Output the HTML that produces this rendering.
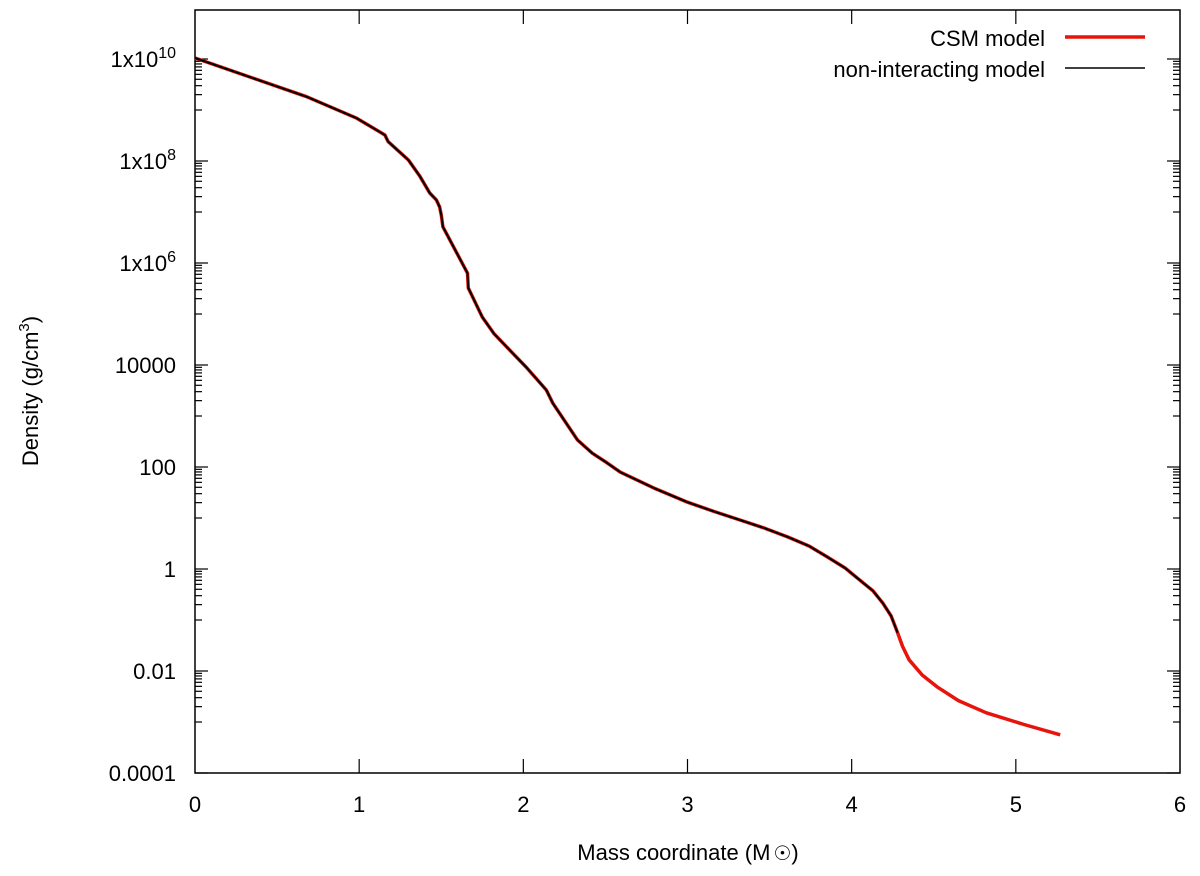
<!DOCTYPE html>
<html><head><meta charset="utf-8">
<style>
html,body{margin:0;padding:0;background:#fff;}
svg{display:block;font-family:"Liberation Sans",sans-serif;}
</style></head>
<body>
<svg id="chart" width="1200" height="876" viewBox="0 0 1200 876">
<g id="axes"></g>
<g id="series"></g>
<g id="legend">
<text x="1045" y="46" text-anchor="end" font-size="22">CSM model</text>
<line x1="1065" y1="37" x2="1145" y2="37" stroke="#e8140c" stroke-width="3.5"/>
<text x="1045" y="77" text-anchor="end" font-size="22">non-interacting model</text>
<line x1="1065" y1="68" x2="1145" y2="68" stroke="#000" stroke-width="1.5"/>
</g>
<text x="688" y="860" text-anchor="middle" font-size="22">Mass coordinate (M<tspan font-size="20" dx="3">☉</tspan>)</text>
<text transform="translate(38,391) rotate(-90)" text-anchor="middle" font-size="22">Density (g/cm<tspan font-size="15" dy="-9">3</tspan><tspan dy="9">)</tspan></text>
</svg>
<script>
const csmMass = [0,0.376,0.68,0.985,1.157,1.176,1.30,1.37,1.43,1.47,1.49,1.50,1.51,1.66,1.665,1.75,1.82,1.90,2.02,2.14,2.18,2.33,2.42,2.51,2.59,2.80,3.00,3.16,3.32,3.47,3.61,3.74,3.85,3.96,4.05,4.13,4.19,4.24,4.28,4.31,4.35,4.43,4.52,4.65,4.82,5.05,5.27];
const csmLogDensity = [10.02,9.60,9.26,8.84,8.51,8.38,8.02,7.70,7.37,7.24,7.10,6.94,6.71,5.80,5.51,4.94,4.62,4.35,3.95,3.51,3.25,2.53,2.27,2.08,1.90,1.58,1.31,1.13,0.96,0.80,0.63,0.45,0.24,0.02,-0.22,-0.43,-0.67,-0.92,-1.25,-1.52,-1.78,-2.08,-2.31,-2.58,-2.82,-3.05,-3.25];
const niMass = [0,0.376,0.68,0.985,1.157,1.176,1.30,1.37,1.43,1.47,1.49,1.50,1.51,1.66,1.665,1.75,1.82,1.90,2.02,2.14,2.18,2.33,2.42,2.51,2.59,2.80,3.00,3.16,3.32,3.47,3.61,3.74,3.85,3.96,4.05,4.13,4.19,4.24,4.28];
const niLogDensity = [10.02,9.60,9.26,8.84,8.51,8.38,8.02,7.70,7.37,7.24,7.10,6.94,6.71,5.80,5.51,4.94,4.62,4.35,3.95,3.51,3.25,2.53,2.27,2.08,1.90,1.58,1.31,1.13,0.96,0.80,0.63,0.45,0.24,0.02,-0.22,-0.43,-0.67,-0.92,-1.25];
const xTicks = [0,1,2,3,4,5,6];
const yMajorExp = [10,8,6,4,2,0,-2,-4];
const yMajorLabels = ["1x10","1x10","1x10","10000","100","1","0.01","0.0001"];
const yMajorSup = ["10","8","6","","","","",""];

const L=195,R=1180,T=10,B=773;
const X=m=>L+m*(R-L)/6;
const Y=lg=>B-(lg+4)*51;
const NS="http://www.w3.org/2000/svg";
const axes=document.getElementById('axes');
function mk(tag,attrs,parent){const e=document.createElementNS(NS,tag);for(const k in attrs)e.setAttribute(k,attrs[k]);parent.appendChild(e);return e;}

const frame=mk('rect',{x:L,y:T,width:R-L,height:B-T,fill:'none',stroke:'#000','stroke-width':1.5},axes);



xTicks.forEach(v=>{
  const x=X(v);
  if(v>0&&v<6){
    const t1=mk('line',{x1:x,y1:B,x2:x,y2:B-14,stroke:'#000','stroke-width':1.2},axes);
    
    
    const t2=mk('line',{x1:x,y1:T,x2:x,y2:T+14,stroke:'#000','stroke-width':1.2},axes);
    
    
  }
  const lb=mk('text',{x:x,y:812,'text-anchor':'middle','font-size':22},axes);
  lb.textContent=v;
  
  
});

for(let d=-4;d<=10;d++){
  for(let k=1;k<=9;k++){
    const major=(k===1&&d%2===0);
    const minor=(Math.abs(d)%2===1);
    if(!major&&!minor)continue;
    const lg=d+Math.log10(k);
    const y=Y(lg);
    if(y<T||y>B)continue;
    const len=major?13:7;
    const a=mk('line',{x1:L,y1:y,x2:L+len,y2:y,stroke:'#000','stroke-width':1.2},axes);
    
    
    const b=mk('line',{x1:R,y1:y,x2:R-len,y2:y,stroke:'#000','stroke-width':1.2},axes);
    
    
  }
}
yMajorExp.forEach((e,i)=>{
  const y=Y(e);
  const t=mk('text',{x:176,y:y+8,'text-anchor':'end','font-size':22},axes);
  
  
  const s1=document.createElementNS(NS,'tspan');s1.textContent=yMajorLabels[i];t.appendChild(s1);
  if(yMajorSup[i]){const s2=document.createElementNS(NS,'tspan');s2.setAttribute('dy','-9');s2.setAttribute('font-size','16');s2.textContent=yMajorSup[i];t.appendChild(s2);}
});

const ser=document.getElementById('series');
function path(xs,ys){return xs.map((m,i)=>(i?'L':'M')+X(m).toFixed(1)+','+Y(ys[i]).toFixed(1)).join(' ');}
const p1=mk('path',{d:path(csmMass,csmLogDensity),fill:'none',stroke:'#e8140c','stroke-width':3.5,'stroke-linejoin':'round'},ser);


const p2=mk('path',{d:path(niMass,niLogDensity),fill:'none',stroke:'#000','stroke-width':2,'stroke-linejoin':'round'},ser);


</script>
</body></html>
